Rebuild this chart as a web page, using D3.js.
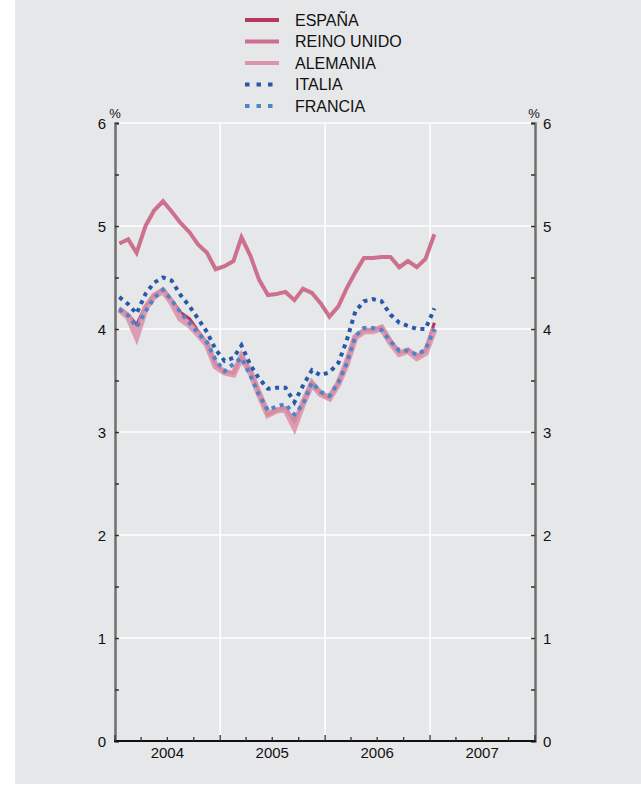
<!DOCTYPE html>
<html><head><meta charset="utf-8">
<script src="https://cdn.jsdelivr.net/npm/d3@7"></script>
<style>html,body{margin:0;padding:0;background:#fff;}svg{display:block;font-family:"Liberation Sans",Arial,Helvetica,sans-serif;}</style>
</head><body>
<script>
// ---- data (monthly, Jan 2004 – Jan 2007) ----
const seriesNames = ["ESPAÑA","REINO UNIDO","ALEMANIA","ITALIA","FRANCIA"];
const espana = [4.20,4.14,4.04,4.22,4.33,4.39,4.28,4.16,4.10,3.98,3.86,3.65,3.59,3.57,3.73,3.59,3.38,3.17,3.21,3.23,3.10,3.28,3.48,3.38,3.33,3.48,3.67,3.93,3.99,3.99,4.02,3.89,3.77,3.80,3.74,3.79,4.06];
const reinoUnido = [4.83,4.87,4.74,5.00,5.15,5.24,5.14,5.03,4.94,4.82,4.74,4.58,4.61,4.66,4.89,4.71,4.48,4.33,4.34,4.36,4.28,4.39,4.35,4.25,4.12,4.22,4.39,4.55,4.69,4.69,4.70,4.70,4.60,4.66,4.60,4.68,4.92];
const alemania = [4.19,4.12,3.93,4.20,4.32,4.37,4.26,4.10,4.04,3.95,3.85,3.64,3.58,3.56,3.73,3.58,3.37,3.17,3.21,3.22,3.05,3.28,3.47,3.37,3.33,3.47,3.66,3.92,3.98,3.98,4.01,3.87,3.76,3.79,3.72,3.77,4.00];
const italia = [4.31,4.24,4.15,4.34,4.45,4.50,4.47,4.33,4.22,4.10,3.97,3.80,3.69,3.72,3.84,3.65,3.52,3.42,3.43,3.43,3.29,3.45,3.60,3.55,3.58,3.67,3.88,4.17,4.27,4.29,4.27,4.14,4.06,4.03,4.00,4.00,4.20];
const francia = [4.19,4.13,4.02,4.17,4.30,4.38,4.28,4.16,4.06,3.96,3.87,3.70,3.59,3.66,3.72,3.55,3.36,3.21,3.25,3.27,3.17,3.27,3.48,3.39,3.35,3.48,3.66,3.93,4.01,4.01,3.99,3.88,3.79,3.79,3.75,3.80,4.00];
const yearLabels = ["2004","2005","2006","2007"];
const yTicks = [0,1,2,3,4,5,6];

const W = 641, H = 791;
const svg = d3.select("body").append("svg").attr("width", W).attr("height", H);
svg.append("rect").attr("x",15).attr("y",0).attr("width",W-15).attr("height",784).attr("fill","#e6e7e9");

const x = d3.scaleTime().domain([new Date(2004,0,1), new Date(2008,0,1)]).range([115, 535]);
const y = d3.scaleLinear().domain([0,6]).range([741, 123]);
const months = d3.timeMonth.range(new Date(2004,0,1), new Date(2007,1,1));
const mid = d => new Date(d.getFullYear(), d.getMonth(), 16);

// gridlines
const g = svg.append("g");
g.selectAll("line.h").data(yTicks.filter(v=>v>0)).join("line")
  .attr("x1", x.range()[0]).attr("x2", x.range()[1])
  .attr("y1", d=>y(d)).attr("y2", d=>y(d))
  .attr("stroke","#fff").attr("stroke-width",1.5);
const yearBounds = [2005,2006,2007].map(yr=>new Date(yr,0,1));
g.selectAll("line.v").data(yearBounds).join("line")
  .attr("x1", d=>x(d)).attr("x2", d=>x(d))
  .attr("y1", y(6)).attr("y2", y(0))
  .attr("stroke","#fff").attr("stroke-width",1.5);

// axes
const halfTicks = d3.range(0, 6.01, 0.5);
const leftAx = d3.axisRight(y).tickValues(halfTicks).tickSize(4).tickFormat("");
const rightAx = d3.axisLeft(y).tickValues(halfTicks).tickSize(4).tickFormat("");
const la = svg.append("g").attr("transform","translate(115,0)").call(leftAx);
const ra = svg.append("g").attr("transform","translate(535,0)").call(rightAx);
[la,ra].forEach(a=>{ a.select(".domain").attr("stroke","#6f6f6f").attr("stroke-width",2.5);
  a.selectAll(".tick line").attr("stroke","#333").attr("stroke-width",1.5); });

svg.append("g").selectAll("text").data(yTicks).join("text")
  .attr("x",106).attr("y",d=>y(d)+5.5).attr("text-anchor","end")
  .attr("font-size",15).attr("fill","#111").text(d=>d);
svg.append("g").selectAll("text").data(yTicks).join("text")
  .attr("x",543).attr("y",d=>y(d)+5.5).attr("text-anchor","start")
  .attr("font-size",15).attr("fill","#111").text(d=>d);
svg.append("text").attr("x",115).attr("y",118).attr("text-anchor","middle").attr("font-size",13).attr("fill","#111").text("%");
svg.append("text").attr("x",534).attr("y",118).attr("text-anchor","middle").attr("font-size",13).attr("fill","#111").text("%");

// bottom axis
const quarters = d3.timeMonth.every(3).range(new Date(2004,0,1), new Date(2008,0,2));
const bx = svg.append("g").attr("transform",`translate(0,${y(0)})`);
bx.append("line").attr("x1",114).attr("x2",536).attr("stroke","#111").attr("stroke-width",2);
bx.selectAll("line.t").data(quarters).join("line")
  .attr("x1",d=>x(d)).attr("x2",d=>x(d)).attr("y1",0)
  .attr("y2",d=>d.getMonth()===0?-6:-4)
  .attr("stroke","#333").attr("stroke-width",1.3);
bx.selectAll("text").data(yearLabels).join("text")
  .attr("x",d=>x(new Date(+d,6,1))).attr("y",17).attr("text-anchor","middle")
  .attr("font-size",15).attr("fill","#111").text(d=>d);

// lines
const line = d3.line().x((d,i)=>x(mid(months[i]))).y(d=>y(d)).curve(d3.curveLinear);
const styles = {
  "ESPAÑA":{data:espana, color:"#b8375f", w:3.2, dash:null},
  "REINO UNIDO":{data:reinoUnido, color:"#cd6f8e", w:4, dash:null},
  "ALEMANIA":{data:alemania, color:"#dc94ab", w:6.5, dash:null, op:0.9},
  "ITALIA":{data:italia, color:"#2759a8", w:4, dash:"4,4.6"},
  "FRANCIA":{data:francia, color:"#4c86c8", w:4, dash:"4,4.6"}
};
const order = ["REINO UNIDO","ESPAÑA","ALEMANIA","ITALIA","FRANCIA"];
order.forEach(n=>{
  const s = styles[n];
  svg.append("path").datum(s.data).attr("d",line)
    .attr("fill","none").attr("stroke",s.color).attr("stroke-width",s.w)
    .attr("stroke-linejoin","miter").attr("stroke-opacity",s.op||1)
    .attr("stroke-dasharray",s.dash);
});

// legend
const lg = svg.append("g");
seriesNames.forEach((n,i)=>{
  const s = styles[n];
  const yy = 20 + i*21.5;
  lg.append("line").attr("x1",245).attr("x2",279).attr("y1",yy).attr("y2",yy)
    .attr("stroke",s.color).attr("stroke-width",4)
    .attr("stroke-dasharray",s.dash?"4.5,7":null);
  lg.append("text").attr("x",295).attr("y",yy+5.5).attr("font-size",16).attr("fill","#111").text(n);
});
</script>
</body></html>
